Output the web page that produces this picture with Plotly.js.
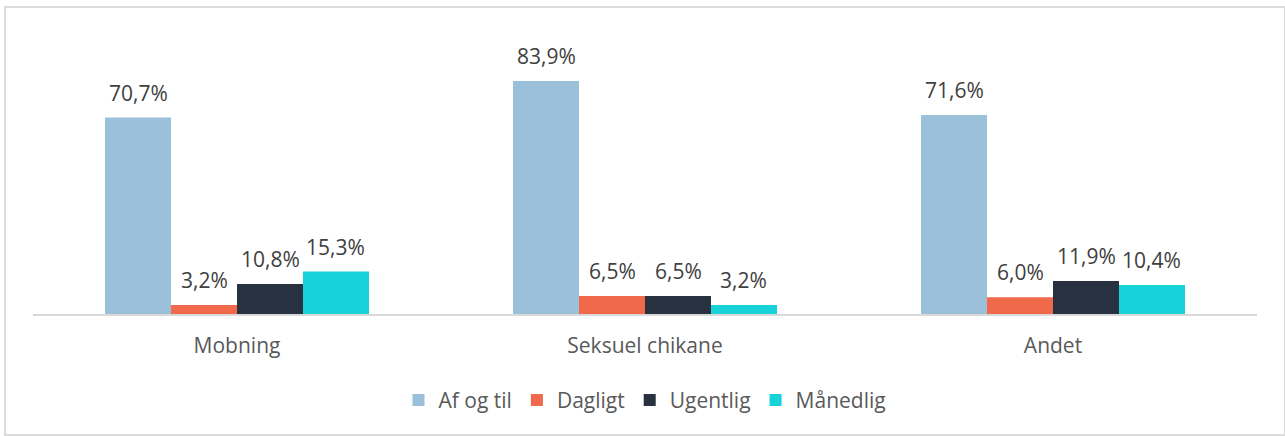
<!DOCTYPE html>
<html>
<head>
<meta charset="utf-8">
<script src="https://cdn.plot.ly/plotly-3.0.1.min.js"></script>
<style>
  html, body { margin: 0; padding: 0; background: #ffffff; }
  #wrap { position: relative; width: 1285px; height: 436px; }
  #chart { position: absolute; left: 0; top: 0; width: 1285px; height: 436px; }
  #frame { position: absolute; left: 4px; top: 6px; width: 1278px; height: 426px; border: 2px solid #dcdcdc; pointer-events: none; }
</style>
</head>
<body>
<div id="wrap">
  <div id="chart"></div>
  <div id="frame"></div>
</div>
<script>
const categories = ["Mobning", "Seksuel chikane", "Andet"];
const seriesNames = ["Af og til", "Dagligt", "Ugentlig", "Månedlig"];
const afOgTil  = [70.7, 83.9, 71.6];
const dagligt  = [3.2, 6.5, 6.0];
const ugentlig = [10.8, 6.5, 11.9];
const maanedlig = [15.3, 3.2, 10.4];
const seriesValues = [afOgTil, dagligt, ugentlig, maanedlig];
const colors = ["#9BC1DA", "#F0694A", "#283140", "#17D2D8"];

const FONT = "'Open Sans', sans-serif";
const TEXT = "#404040";
const TICKTEXT = "#595959";
const FS = 21;
const bargap = 0.353;

const traces = seriesNames.map((name, j) => ({
  type: "bar",
  name: name,
  x: categories.map((c, i) => i),
  y: seriesValues[j],
  marker: { color: colors[j], line: { width: 0 } },
  hoverinfo: "skip"
}));

const nSeries = seriesNames.length;
const barW = (1 - bargap) / nSeries;
const annotations = [];
seriesValues.forEach((vals, j) => {
  vals.forEach((v, i) => {
    annotations.push({
      xref: "x", yref: "y",
      x: i + (j - (nSeries - 1) / 2) * barW,
      y: v,
      text: v.toFixed(1).replace(".", ",") + "%",
      showarrow: false,
      yanchor: "bottom",
      yshift: 9,
      font: { family: FONT, size: FS, color: TEXT }
    });
  });
});

const layout = {
  width: 1285,
  height: 436,
  margin: { l: 33, r: 28, t: 64, b: 122 },
  paper_bgcolor: "#ffffff",
  plot_bgcolor: "#ffffff",
  barmode: "group",
  bargap: bargap,
  bargroupgap: 0,
  showlegend: true,
  font: { family: FONT, size: FS, color: TEXT },
  xaxis: {
    tickmode: "array",
    tickvals: categories.map((c, i) => i),
    ticktext: categories,
    range: [-0.5, categories.length - 0.5],
    showline: true,
    linecolor: "#d9d9d9",
    linewidth: 1.5,
    ticks: "outside",
    ticklen: 12,
    tickcolor: "rgba(0,0,0,0)",
    showgrid: false,
    zeroline: false,
    tickfont: { family: FONT, size: FS, color: TICKTEXT }
  },
  yaxis: {
    range: [0, 90],
    visible: false,
    showgrid: false,
    zeroline: false
  },
  legend: {
    orientation: "h",
    x: 0.5, xanchor: "center",
    y: -0.345, yanchor: "middle",
    font: { family: FONT, size: FS, color: TICKTEXT },
    traceorder: "normal",
    itemwidth: 30
  },
  annotations: annotations
};

Plotly.newPlot("chart", traces, layout, { displayModeBar: false, staticPlot: true });
</script>
</body>
</html>
